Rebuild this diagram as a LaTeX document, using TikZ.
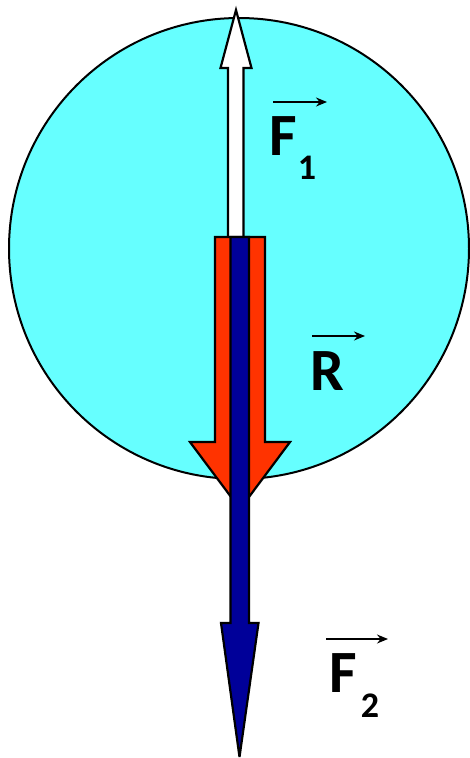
\documentclass[tikz,border=0pt]{standalone}
\usepackage{fontspec}
\setmainfont{Carlito}
\usetikzlibrary{arrows.meta}
\definecolor{ballcyan}{HTML}{66FFFF}
\definecolor{forcered}{HTML}{FF3300}
\definecolor{forceblue}{HTML}{000099}
\tikzset{
  forcebox/.style={draw=black, line width=2.2pt, line join=miter, miter limit=4},
  veclabel/.style={inner sep=0pt, font=\fontsize{60}{60}\selectfont\bfseries, anchor=base},
  subindex/.style={inner sep=0pt, font=\fontsize{36}{36}\selectfont\bfseries, anchor=base},
  vecarrow/.style={line width=1.6pt, -{Stealth[length=11pt, width=9pt]}}
}
\begin{document}
\begin{tikzpicture}[x=1pt, y=-1pt]
\useasboundingbox (0,0) rectangle (470,758);
% body
\draw[fill=ballcyan, line width=2pt] (239,248.5) ellipse [x radius=230, y radius=230.5];
% F1 (white, up)
\draw[forcebox, fill=white] (228,238) -- (228,68) -- (220.5,68) -- (236,10) -- (251.5,68) -- (243.5,68) -- (243.5,238) -- cycle;
% R (red, down)
\draw[forcebox, fill=forcered] (215,237) -- (215,442) -- (190,442) -- (240,509) -- (290,442) -- (265,442) -- (265,237) -- cycle;
% F2 (blue, down)
\draw[forcebox, fill=forceblue] (230.5,237) -- (230.5,623) -- (221,623) -- (239.5,757) -- (258.5,623) -- (249,623) -- (249,237) -- cycle;
% labels
\node[veclabel] (f1) at (283,155) {F};
\node[subindex] (f1i) at (307,179) {1};
\coordinate (f1a) at (273,102);
\coordinate (f1b) at (327,102);
\draw[vecarrow] (f1a) -- (f1b);
\node[veclabel] (r) at (327,390) {R};
\coordinate (ra) at (312,336);
\coordinate (rb) at (365,336);
\draw[vecarrow] (ra) -- (rb);
\node[veclabel] (f2) at (343.5,692) {F};
\node[subindex] (f2i) at (370,717) {2};
\coordinate (f2a) at (326,639);
\coordinate (f2b) at (388,639);
\draw[vecarrow] (f2a) -- (f2b);
\end{tikzpicture}
\end{document}
